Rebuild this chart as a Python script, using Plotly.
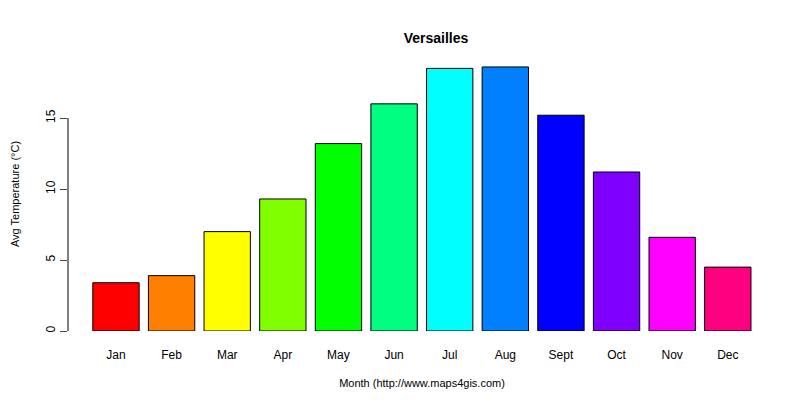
import plotly.graph_objects as go

months = ["Jan","Feb","Mar","Apr","May","Jun","Jul","Aug","Sept","Oct","Nov","Dec"]
temps = [3.4, 3.9, 7.0, 9.3, 13.2, 16.0, 18.5, 18.6, 15.2, 11.2, 6.6, 4.5]
colors = ["#FF0000","#FF8000","#FFFF00","#80FF00","#00FF00","#00FF80",
          "#00FFFF","#0080FF","#0000FF","#8000FF","#FF00FF","#FF0080"]
yticks = [0, 5, 10, 15]

xpos = [0.7 + 1.2*i for i in range(len(months))]

fig = go.Figure(go.Bar(x=xpos, y=temps, width=1.0, marker_color=colors,
                       marker_line_color="black", marker_line_width=1))
font = dict(family="Liberation Sans, Arial", size=12, color="black")
fig.update_layout(
    width=800, height=400, margin=dict(l=60, r=32, t=49, b=77, autoexpand=False),
    plot_bgcolor="white", paper_bgcolor="white", font=font, showlegend=False,
    title=dict(text="<b>Versailles</b>", x=0.535, xanchor="center", y=0.925, yanchor="middle",
               font=dict(family="Liberation Sans, Arial", size=14, color="black")),
    xaxis=dict(range=[-0.335, 14.94], tickvals=xpos, ticktext=months, showgrid=False,
               zeroline=False, showline=False, ticks="", ticklabelstandoff=15, automargin=False,
               title=dict(text="Month (http://www.maps4gis.com)", standoff=18,
                          font=dict(size=11))),
    yaxis=dict(range=[0, 19.3], tickvals=yticks, showgrid=False, zeroline=False, automargin=False,
               showline=False, ticks="outside", ticklen=7, tickangle=-90,
               title=dict(text="Avg Temperature (°C)", standoff=22, font=dict(size=11))),
    shapes=[dict(type="line", xref="paper", x0=0, x1=0, yref="y", y0=min(yticks), y1=max(yticks),
                 line=dict(color="black", width=1))],
)
fig.write_html("out.html")
